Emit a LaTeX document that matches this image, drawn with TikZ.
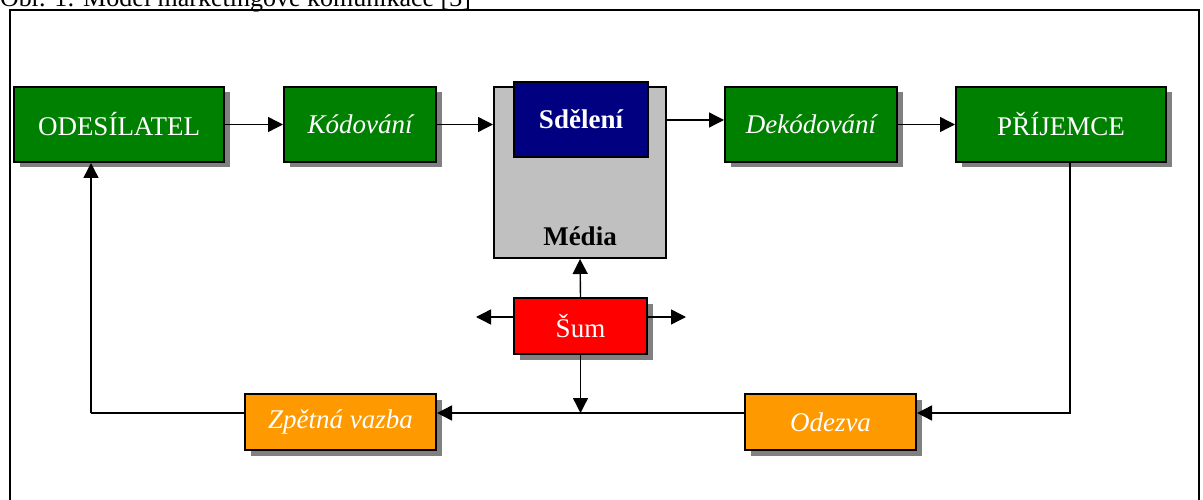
\documentclass[tikz,border=0pt]{standalone}
\usepackage{fontspec}
\setmainfont{Liberation Serif}
\usetikzlibrary{arrows.meta,calc,shadows}
\definecolor{boxgreen}{RGB}{0,128,0}
\definecolor{boxnavy}{RGB}{0,0,128}
\definecolor{boxgray}{RGB}{192,192,192}
\definecolor{boxred}{RGB}{255,0,0}
\definecolor{boxorange}{RGB}{255,153,0}
\definecolor{shadowgray}{RGB}{128,128,128}
\begin{document}
\begin{tikzpicture}[x=1pt,y=-1pt,
  box/.style={draw=black, line width=2pt, inner sep=0pt, text=white,
    font=\fontsize{27}{31}\selectfont},
  shad/.style={drop shadow={shadow xshift=5.5pt, shadow yshift=-5.5pt, fill=shadowgray, opacity=1}},
  greenbox/.style={box, shad, fill=boxgreen, minimum height=75pt},
  orangebox/.style={box, shad, fill=boxorange, minimum height=56pt, font=\fontsize{27}{31}\selectfont\itshape},
  arr/.style={line width=1.4pt, -{Triangle[length=15pt,width=15pt]}},
  ln/.style={line width=1.4pt}]
\useasboundingbox (0,0) rectangle (1203,500);
% caption and frame
\node[anchor=base west, inner sep=0pt, font=\fontsize{26}{30}\selectfont] (cap) at (0,7) {Obr. 1: Model marketingové komunikace [3]};
\draw[line width=2pt] (10,520) -- (10,10) -- (1199,10) -- (1199,520);
% boxes
\node[greenbox, minimum width=210pt] (ode) at (119,124.5) {ODESÍLATEL};
\node[greenbox, minimum width=152pt, font=\fontsize{27}{31}\selectfont\itshape] (kod) at (360,124.5) {Kódování};
\node[box, fill=boxgray, minimum width=172pt, minimum height=171pt] (med) at (580,172.5) {};
\node[inner sep=0pt, font=\fontsize{27}{31}\selectfont\bfseries] (medl) at (580,236) {Média};
\node[box, fill=boxnavy, minimum width=134pt, minimum height=75pt, font=\fontsize{27}{31}\selectfont\bfseries] (sde) at (581,119.5) {Sdělení};
\node[greenbox, minimum width=172pt, font=\fontsize{27}{31}\selectfont\itshape] (dek) at (811,124.5) {Dekódování};
\node[greenbox, minimum width=210pt] (pri) at (1061,124.5) {PŘÍJEMCE};
\node[box, shad, fill=boxred, minimum width=133pt, minimum height=56pt] (sum) at (580.5,326) {Šum};
\node[orangebox, minimum width=191pt] (zpv) at (340.5,422) {Zpětná vazba};
\node[orangebox, minimum width=171pt] (odz) at (830.5,422) {Odezva};
% helper coordinates
\coordinate (sl) at (476,317);
\coordinate (sr) at (686,317);
\coordinate (fb) at (91,413);
\coordinate (ly) at (0,413);
% top row connectors
\draw[arr] (ode) -- (kod);
\draw[arr] (kod.east) -- (kod.east -| med.west);
\draw[arr] ([yshift=4.5pt]med.east |- dek.west) -- ([yshift=4.5pt]dek.west);
\draw[arr] (dek) -- (pri);
% feedback loop
\draw[arr] ([xshift=9pt]pri.south) |- (odz.east |- ly);
\draw[arr] (odz.west |- ly) -- (zpv.east |- ly);
\draw[ln] (zpv.west |- ly) -- (fb);
\draw[arr] (fb) -- (fb |- ode.south);
% noise
\draw[arr] (sum.north) -- (med.south);
\draw[arr] (sum.west |- sl) -- (sl);
\draw[arr] (sum.east |- sr) -- (sr);
\draw[arr] (sum.south) -- (sum.south |- ly);
\end{tikzpicture}
\end{document}
